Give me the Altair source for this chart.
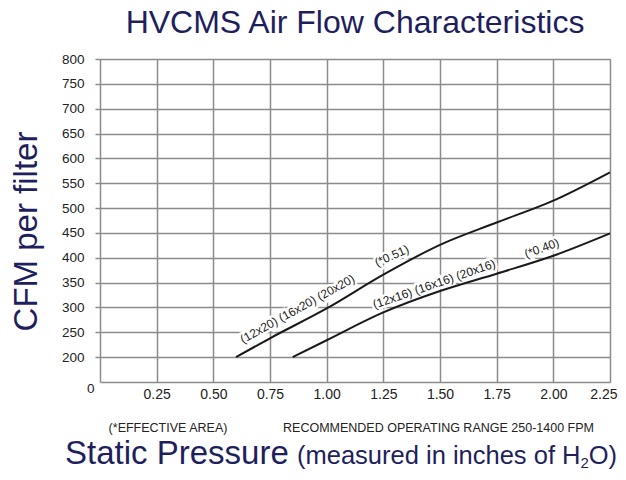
import altair as alt
import pandas as pd

# ---- data ----
upper_x = [0.6, 0.75, 1.0, 1.25, 1.5, 1.75, 2.0, 2.25]
upper_y = [200, 238, 298, 366, 426, 471, 515, 572]
lower_x = [0.85, 1.0, 1.25, 1.5, 1.75, 2.0, 2.25]
lower_y = [200, 234, 290, 333, 368, 404, 449]

label_text = ["(12x20) (16x20) (20x20)", "(*0.51)", "(12x16) (16x16) (20x16)", "(*0.40)"]
label_x = [0.871, 1.287, 1.474, 1.949]
label_y = [297, 404, 347, 419]
label_angle = [331, 336, 341, 340]

x_ticks = [0, 0.25, 0.5, 0.75, 1.0, 1.25, 1.5, 1.75, 2.0, 2.25]
y_ticks = [150, 200, 250, 300, 350, 400, 450, 500, 550, 600, 650, 700, 750, 800]

title_text = "HVCMS Air Flow Characteristics"
y_title = "CFM per filter"
x_title_main = "Static Pressure"
x_title_paren = ["(measured in inches of H", "2", "O)"]
note_left = "(*EFFECTIVE AREA)"
note_right = "RECOMMENDED OPERATING RANGE 250-1400 FPM"

FONT = "Liberation Sans, Arial, Helvetica, sans-serif"
NAVY = "#1f1f5e"
GRID = "#8c8c8c"
INK = "#222222"

curves = pd.DataFrame({
    "series": ["upper"] * len(upper_x) + ["lower"] * len(lower_x),
    "pressure": upper_x + lower_x,
    "cfm": upper_y + lower_y,
})
labels = pd.DataFrame({"text": label_text, "pressure": label_x, "cfm": label_y, "angle": label_angle})

x_enc = alt.X(
    "pressure:Q",
    scale=alt.Scale(domain=[0, 2.25], nice=False, zero=False),
    axis=alt.Axis(
        values=x_ticks,
        labelExpr="datum.value == 0 ? '' : format(datum.value, '.2f')",
        ticks=False, domain=False, grid=True,
        gridColor=GRID, gridWidth=1.5,
        labelFont=FONT, labelFontSize=14, labelColor=INK,
        labelAlign={"condition": {"test": "datum.value == 2.25", "value": "right"}, "value": "center"},
        labelOffset={"condition": {"test": "datum.value == 2.25", "value": 7}, "value": 0},
        labelPadding=5, labelFlush=False, labelOverlap=False,
        title=None,
    ),
)
y_enc = alt.Y(
    "cfm:Q",
    scale=alt.Scale(domain=[150, 800], nice=False, zero=False),
    axis=alt.Axis(
        values=y_ticks,
        labelExpr="datum.value == 150 ? '0' : datum.label",
        domain=False, grid=True, gridColor=GRID, gridWidth=1.5,
        tickSize=5, tickColor=GRID, tickWidth=1.5,
        tickOpacity={"condition": {"test": "datum.value == 150", "value": 0}, "value": 1},
        labelOffset={"condition": {"test": "datum.value == 150", "value": 6}, "value": 0},
        labelPadding={"condition": {"test": "datum.value == 150", "value": 1}, "value": 11},
        labelFont=FONT, labelFontSize=13.5, labelColor=INK,
        labelFlush=False, labelOverlap=False,
        title=y_title, titleFont=FONT, titleFontSize=33, titleFontWeight="normal",
        titleColor=NAVY, titleAngle=270, titleAlign="center", titleBaseline="middle",
        titleX=-73.5, titleY=172,
    ),
)

halo = alt.Chart(labels).mark_text(
    font=FONT, fontSize=12, color="white", stroke="white", strokeWidth=5,
    align="center", baseline="middle",
).encode(x=x_enc, y=y_enc, text="text:N", angle=alt.Angle("angle:Q", scale=None))

lines = alt.Chart(curves).mark_line(
    interpolate="monotone", color="#1a1a1a", strokeWidth=2
).encode(x=x_enc, y=y_enc, detail="series:N")

texts = alt.Chart(labels).mark_text(
    font=FONT, fontSize=12, color=INK, align="center", baseline="middle",
).encode(x=x_enc, y=y_enc, text="text:N", angle=alt.Angle("angle:Q", scale=None))


def free_text(txt, x, y, size, color, align="left", baseline="alphabetic"):
    return alt.Chart(pd.DataFrame({"t": [txt]})).mark_text(
        font=FONT, fontSize=size, color=color, align=align, baseline=baseline
    ).encode(x=alt.value(x), y=alt.value(y), text="t:N")


notes = [
    free_text(note_left, 68, 369, 12.5, INK, align="center", baseline="middle"),
    free_text(note_right, 338.5, 369, 12.5, INK, align="center", baseline="middle"),
    free_text(x_title_main, -35, 405, 33, NAVY),
    free_text(x_title_paren[0], 197, 405, 25.5, NAVY),
    free_text(x_title_paren[1], 480.4, 409, 15, NAVY),
    free_text(x_title_paren[2], 488.7, 405, 25.5, NAVY),
]

chart = alt.layer(halo, lines, texts, *notes).properties(
    width=510, height=323,
    padding={"left": 92, "top": 51, "right": 8, "bottom": 90},
    autosize=alt.AutoSizeParams(type="none"),
    title=alt.TitleParams(
        title_text, font=FONT, fontSize=32, fontWeight="normal", color=NAVY,
        anchor="middle", frame="group", offset=12,
    ),
).configure_view(stroke=GRID, strokeWidth=1.5).configure(background="white")

chart.save("out.html", embed_options={"renderer": "svg", "actions": False})
